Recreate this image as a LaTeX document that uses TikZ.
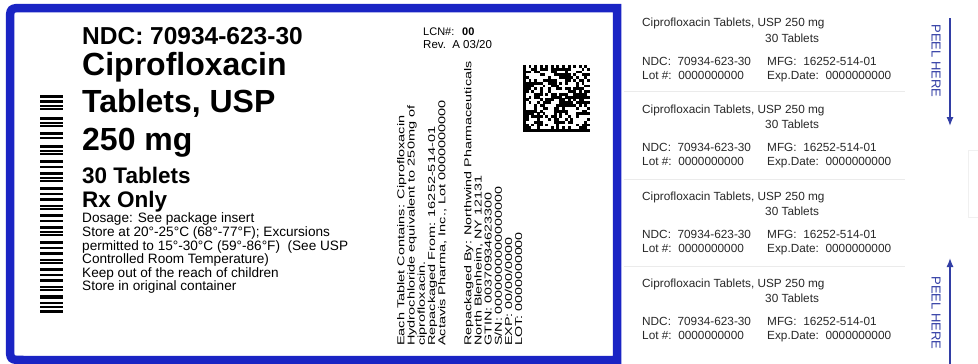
\documentclass[tikz,border=0pt]{standalone}
\usepackage{fontspec}
\setmainfont{Liberation Sans}
\usepackage{graphicx}
\usetikzlibrary{arrows.meta}
\definecolor{labelblue}{RGB}{26,36,196}
\definecolor{peelblue}{RGB}{50,62,165}
\definecolor{stubtext}{RGB}{40,40,40}
\newcommand{\fsz}[1]{\fontsize{#1}{#1}\selectfont}
\tikzset{
  txt/.style={anchor=base west, inner sep=0pt},
  ndcline/.style={txt, font=\fontsize{24.5}{24.5}\selectfont\bfseries},
  bigtitle/.style={txt, font=\fontsize{32}{32}\selectfont\bfseries},
  midtitle/.style={txt, font=\fontsize{22.5}{22.5}\selectfont\bfseries},
  smalltxt/.style={txt, font=\fontsize{13.6}{13.6}\selectfont},
  vertblock/.style={rotate=90, anchor=north west, inner sep=0pt, font=\fontsize{10}{10}\selectfont},
  stub/.style={txt, font=\fontsize{11.8}{11.8}\selectfont, text=stubtext},
  peeltxt/.style={rotate=-90, inner sep=0pt, font=\fontsize{13}{13}\selectfont, text=peelblue},
  peelarrow/.style={draw=peelblue, line width=1.3pt, -{Latex[length=9pt,width=7pt]}},
  sepline/.style={draw=black!8, line width=0.8pt},
  frame/.style={draw=labelblue, line width=8.5pt},
  bar/.style={fill=black},
}
\begin{document}
\begin{tikzpicture}[x=1pt,y=-1pt]
\useasboundingbox (0,0) rectangle (978,364);
\fill[white] (0,0) rectangle (978,364);

% blue frame of the main label
\draw[frame] (617,8) -- (24,8) .. controls (10,8) .. (10,22) -- (10,346) .. controls (10,360) .. (24,360) -- (617,360) -- cycle;

% barcode
\foreach \t/\h in {95/3,100/3,105/2,108/2,117/3,122/2,125/2,132/3,137/2,145/3,150/2,153/2,160/3,166/2,172/3,177/2,180/2,187/3,193/2,198/3,205/2,208/2,214/3,220/2,226/3,231/2,234/2,241/3,247/2,252/3,259/2,262/2,268/3,274/2,279/3,286/2,289/2,295/4,302/2,306/2,310/3}
  \fill[bar] (40,\t) rectangle (63,\t+\h);

% main texts
\node[ndcline] (ndc) at (82,45) {NDC: 70934-623-30};
\node[bigtitle] (name1) at (82,75) {Ciprofloxacin};
\node[bigtitle] (name2) at (82,112) {Tablets, USP};
\node[bigtitle] (dose) at (82,150) {250 mg};
\node[midtitle] (count) at (82,183) {30 Tablets};
\node[midtitle] (rx) at (82,207) {Rx Only};
\node[smalltxt] (s1) at (82,222) {Dosage: See package insert};
\node[smalltxt] (s2) at (82,236) {Store at 20°-25°C (68°-77°F); Excursions};
\node[smalltxt] (s3) at (82,250) {permitted to 15°-30°C (59°-86°F)\ \ (See USP};
\node[smalltxt] (s4) at (82,263) {Controlled Room Temperature)};
\node[smalltxt] (s5) at (82,277) {Keep out of the reach of children};
\node[smalltxt] (s6) at (82,290) {Store in original container};

% LCN / Rev
\node[txt, font=\fsz{11}] (lcn) at (423,35) {LCN\#:};
\node[txt, font=\fsz{11}\bfseries] (lcnnum) at (462,35) {00};
\node[txt, font=\fsz{11.5}] (rev) at (423,48) {Rev.\ \ A 03/20};

% vertical text blocks
\node[vertblock] (contains) at (397,346) {\scalebox{1.45}[1]{\begin{tabular}{@{}l@{}}Each Tablet Contains: Ciprofloxacin\\ Hydrochloride equivalent to 250mg of\\ ciprofloxacin.\\ Repackaged From: 16252-514-01\\ Actavis Pharma, Inc., Lot 0000000000\end{tabular}}};
\node[vertblock] (repack) at (464,346) {\scalebox{1.43}[1]{\begin{tabular}{@{}l@{}}Repackaged By: Northwind Pharmaceuticals\\ North Blenheim, NY 12131\\ GTIN: 00370934623300\\ S/N: 0000000000000000\\ EXP: 00/00/0000\\ LOT: 0000000000\end{tabular}}};

% data matrix
\pgfmathsetseed{17}
\foreach \i in {0,...,23}{
  \foreach \j in {0,...,23}{
    \pgfmathtruncatemacro\on{(\i==0||\j==23)?1:((\j==0)?(mod(\i+1,2)):((\i==23)?(mod(\j,2)):(rnd<0.5)))}
    \ifnum\on=1
      \fill[black] (523+\i*2.79,65+\j*2.79) rectangle (523+\i*2.79+2.9,65+\j*2.79+2.9);
    \fi
  }
}

% right stub labels
\draw[sepline] (624,91) -- (905,91);
\draw[sepline] (624,179) -- (905,179);
\draw[sepline] (624,266) -- (905,266);
\draw[draw=black!6, line width=0.8pt] (978,150) -- (968,150) -- (968,217) -- (978,217);
\foreach \b [count=\k] in {23,109,196,283}{
  \node[stub] (title\k) at (642,\b+4) {Ciprofloxacin Tablets, USP 250 mg};
  \node[stub] (tabs\k) at (765,\b+19) {30 Tablets};
  \node[stub] (ndc\k) at (642,\b+42) {NDC:\ \ 70934-623-30};
  \node[stub] (mfg\k) at (767,\b+42) {MFG:\ \ 16252-514-01};
  \node[stub] (lot\k) at (642,\b+56) {Lot \#:\ \ 0000000000};
  \node[stub] (exp\k) at (767,\b+56) {Exp.Date:\ \ 0000000000};
}

% peel here
\node[peeltxt] (peel1) at (936,61) {PEEL HERE};
\node[peeltxt] (peel2) at (936,313) {PEEL HERE};
\coordinate (a1s) at (950,18);
\coordinate (a1e) at (950,126);
\coordinate (a2s) at (950,364);
\coordinate (a2e) at (950,258);
\draw[peelarrow] (a1s) -- (a1e);
\draw[peelarrow] (a2s) -- (a2e);
\end{tikzpicture}
\end{document}
